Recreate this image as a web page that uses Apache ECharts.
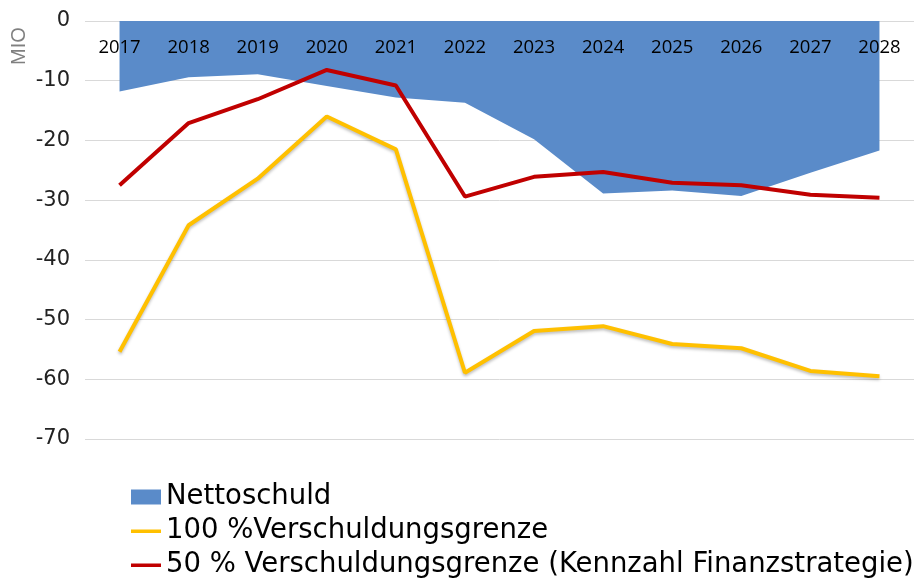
<!DOCTYPE html>
<html>
<head>
<meta charset="utf-8">
<script src="https://cdn.jsdelivr.net/npm/echarts@6/dist/echarts.min.js"></script>
<style>
  html, body { margin: 0; padding: 0; background: #fff; }
  #chart { width: 917px; height: 585px; }
</style>
</head>
<body>
<div id="chart"></div>
<script>
const years = ["2017", "2018", "2019", "2020", "2021", "2022", "2023", "2024", "2025", "2026", "2027", "2028"];
const nettoschuld = [-11.8, -9.4, -8.9, -10.9, -12.8, -13.7, -19.8, -28.9, -28.4, -29.3, -25.4, -21.7];
const grenze100 = [-55.4, -34.2, -26.4, -16.0, -21.5, -58.9, -51.9, -51.1, -54.1, -54.8, -58.6, -59.5];
const grenze50 = [-27.5, -17.1, -13.1, -8.2, -10.8, -29.4, -26.1, -25.3, -27.1, -27.5, -29.1, -29.6];
const yTicks = [0, -10, -20, -30, -40, -50, -60, -70];

const lineIcon = "path://M0,0h0.01v0.01h-0.01z M0,6h30v3.5h-30z M29.99,14.99h0.01v0.01h-0.01z";

const chart = echarts.init(document.getElementById("chart"));

chart.setOption({
  animation: false,
  backgroundColor: "#fff",
  grid: { left: 85, right: 3, top: 21, bottom: 146, outerBoundsMode: "none" },
  xAxis: {
    type: "category",
    data: years,
    position: "top",
    boundaryGap: true,
    z: 10,
    axisLine: { show: false },
    axisTick: { show: false },
    axisLabel: {
      inside: true,
      margin: 17,
      color: "#000",
      fontFamily: "Open Sans",
      fontSize: 18.5,
      interval: 0,
    },
  },
  yAxis: {
    type: "value",
    min: yTicks[yTicks.length - 1],
    max: yTicks[0],
    interval: 10,
    axisLine: { show: false },
    axisTick: { show: false },
    axisLabel: {
      margin: 15,
      color: "#222",
      fontFamily: "DejaVu Sans",
      fontSize: 21,
    },
    splitLine: { lineStyle: { color: "#d9d9d9", width: 1 } },
  },
  legend: {
    orient: "vertical",
    left: 131,
    top: 483,
    height: 140,
    itemWidth: 30,
    itemHeight: 15,
    itemGap: 6,
    padding: 0,
    textStyle: {
      color: "#000",
      fontFamily: "DejaVu Sans",
      fontSize: 27.5,
      lineHeight: 28,
    },
    data: [
      { name: "Nettoschuld", icon: "rect" },
      { name: "100 %Verschuldungsgrenze", icon: lineIcon },
      { name: "50 % Verschuldungsgrenze (Kennzahl Finanzstrategie)", icon: lineIcon },
    ],
  },
  graphic: [
    {
      type: "text",
      x: 19,
      y: 46,
      rotation: Math.PI / 2,
      style: {
        text: "MIO",
        fill: "#808080",
        font: "20px 'Liberation Sans'",
        textAlign: "center",
        textVerticalAlign: "middle",
      },
    },
  ],
  series: [
    {
      name: "Nettoschuld",
      type: "line",
      data: nettoschuld,
      showSymbol: false,
      symbol: "none",
      lineStyle: { width: 0 },
      itemStyle: { color: "#5a8bc9" },
      areaStyle: { color: "#5a8bc9", opacity: 1 },
      z: 1,
    },
    {
      name: "100 %Verschuldungsgrenze",
      type: "line",
      data: grenze100,
      symbol: "none",
      itemStyle: { color: "#ffc000" },
      lineStyle: {
        color: "#ffc000",
        width: 4,
        shadowColor: "rgba(0,0,0,0.25)",
        shadowBlur: 3,
        shadowOffsetY: 2,
      },
      z: 3,
    },
    {
      name: "50 % Verschuldungsgrenze (Kennzahl Finanzstrategie)",
      type: "line",
      data: grenze50,
      symbol: "none",
      itemStyle: { color: "#c00000" },
      lineStyle: { color: "#c00000", width: 4 },
      z: 4,
    },
  ],
});
</script>
</body>
</html>
